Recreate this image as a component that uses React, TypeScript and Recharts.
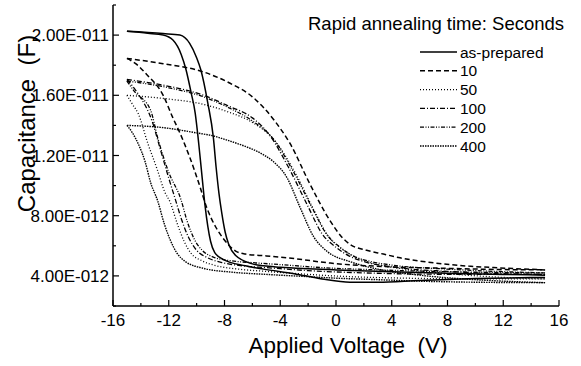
import { Label, Legend, Line, LineChart, XAxis, YAxis } from 'recharts'

// capacitance in pF, voltage in V; each loop is split into its two sweep branches
const asPreparedA: [number, number][] = [
  [-15, 20.25], [-13.5, 20.12], [-12.4, 20.0], [-11.7, 19.67], [-11.1, 18.7], [-10.76, 17.7], [-10.4, 16.2],
  [-10.1, 14.8], [-9.85, 12.8], [-9.6, 10.5], [-9.4, 8.7], [-9.2, 7.3], [-9.0, 6.3], [-8.7, 5.55], [-8.1, 5.1],
  [-6.5, 4.67], [-5.2, 4.45], [-3, 4.15], [-1, 3.8], [1, 3.58], [3, 3.58], [6, 3.7], [10, 3.82], [15, 3.9],
]
const asPreparedB: [number, number][] = [
  [-15, 20.25], [-12.4, 20.1], [-11.2, 20.0], [-10.5, 19.45], [-10.0, 18.5], [-9.7, 17.7], [-9.2, 15.5],
  [-8.8, 13.2], [-8.6, 11.2], [-8.4, 9.5], [-8.2, 8.2], [-7.95, 6.9], [-7.7, 6.1], [-7.2, 5.35], [-6.0, 4.8],
  [-5.2, 4.67], [-4, 4.58], [-2, 4.48], [0, 4.4], [4, 4.28], [8, 4.18], [12, 4.1], [15, 4.05],
]
const sec10Left: [number, number][] = [
  [-15, 18.45], [-14.3, 18.05], [-13.6, 17.4], [-12.4, 16.0], [-11.75, 14.6], [-11.2, 13.5], [-10.5, 11.9],
  [-9.75, 9.9], [-9.3, 8.6], [-8.6, 7.2], [-8.1, 6.5], [-7.2, 5.65], [-6.5, 5.45], [-5, 5.33], [-3, 5.15],
  [-0.4, 4.85], [4, 4.6], [8, 4.5], [12, 4.42], [15, 4.4],
]
const sec10Upper: [number, number][] = [
  [-15, 18.45], [-12.4, 18.1], [-9.5, 17.55], [-7.6, 16.8], [-6, 15.9], [-4.4, 14.3], [-3.3, 12.8],
  [-1.87, 10.1], [-0.43, 7.67], [0.5, 6.5], [1.0, 6.1], [2.2, 5.7], [3.4, 5.45], [4.6, 5.2], [7, 4.87],
  [9.5, 4.65], [11.8, 4.53], [15, 4.4],
]
const sec50Left: [number, number][] = [
  [-15, 16.0], [-14.6, 15.4], [-14.2, 14.8], [-13.5, 12.8], [-12.8, 11.0], [-12.3, 9.6], [-11.9, 8.9],
  [-11.4, 7.5], [-10.9, 6.3], [-10.4, 5.5], [-9.6, 5.0], [-8.7, 4.7], [-7, 4.45], [-5, 4.3], [-2, 4.1],
  [1, 3.95], [5, 3.85], [10, 3.8], [15, 3.8],
]
const sec50Upper: [number, number][] = [
  [-15, 16.0], [-12, 15.75], [-9.5, 15.4], [-7.75, 14.9], [-6, 14.2], [-4.4, 13.0], [-2.9, 10.8], [-1.6, 8.4],
  [-0.6, 6.7], [0.4, 5.8], [1.5, 5.2], [3, 4.75], [5, 4.45], [8, 4.15], [12, 3.9], [15, 3.8],
]
const sec100Left: [number, number][] = [
  [-15, 17.05], [-14.2, 16.1], [-13.2, 14.3], [-12.6, 12.4], [-12.0, 10.5], [-11.5, 9.0], [-11.1, 7.8],
  [-10.6, 6.6], [-10.0, 5.7], [-9.2, 5.2], [-8, 4.85], [-6.5, 4.65], [-5, 4.55], [-2, 4.35], [2, 4.2],
  [6, 4.12], [10, 4.1], [15, 4.1],
]
const sec100Upper: [number, number][] = [
  [-15, 17.05], [-12, 16.6], [-9.5, 16.0], [-7.75, 15.3], [-6, 14.5], [-4.8, 13.4], [-3.4, 11.2], [-2.0, 8.6],
  [-1.0, 6.8], [0, 5.9], [1, 5.3], [2, 4.95], [4, 4.6], [8, 4.3], [12, 4.15], [15, 4.1],
]
const sec200Left: [number, number][] = [
  [-15, 16.95], [-14.5, 16.3], [-13.3, 15.0], [-12.8, 13.2], [-12.05, 11.0], [-11.1, 9.0], [-10.7, 7.7],
  [-10.2, 6.5], [-9.6, 5.7], [-8.8, 5.25], [-7.5, 5.0], [-6, 4.88], [-4, 4.75], [-1, 4.55], [3, 4.4],
  [8, 4.28], [12, 4.22], [15, 4.2],
]
const sec200Upper: [number, number][] = [
  [-15, 16.95], [-12, 16.5], [-9.5, 15.9], [-7.75, 15.2], [-6, 14.3], [-4.5, 13.1], [-3.1, 11.0], [-1.7, 8.5],
  [-0.7, 6.8], [0.3, 5.9], [1.3, 5.3], [2.5, 4.95], [4, 4.72], [8, 4.45], [12, 4.28], [15, 4.2],
]
const sec400Left: [number, number][] = [
  [-15, 14.0], [-14.6, 13.5], [-14.2, 12.8], [-13.7, 11.6], [-13.3, 10.2], [-12.8, 9.0], [-12.3, 7.4],
  [-11.9, 6.4], [-11.4, 5.5], [-10.8, 4.95], [-9.5, 4.5], [-7.5, 4.25], [-5, 4.1], [-2, 3.95], [0, 3.85],
  [3, 3.75], [6, 3.65], [10, 3.58], [15, 3.55],
]
const sec400Upper: [number, number][] = [
  [-15, 14.0], [-12.4, 13.85], [-10, 13.5], [-8.8, 13.3], [-7.75, 13.0], [-6.5, 12.6], [-5.5, 12.2],
  [-4.5, 11.6], [-3.5, 10.5], [-2.6, 8.6], [-1.6, 6.6], [-0.6, 5.6], [1, 4.95], [3, 4.45], [6, 4.05],
  [10, 3.75], [15, 3.55],
]

const X_TICKS = [-16, -14, -12, -10, -8, -6, -4, -2, 0, 2, 4, 6, 8, 10, 12, 14, 16]
const Y_TICKS = [2, 4, 6, 8, 10, 12, 14, 16, 18, 20, 22]
const LEGEND_TITLE = 'Rapid annealing time: Seconds'

const SERIES = [
  { name: 'as-prepared', dash: undefined, width: 1.5, branches: [asPreparedA, asPreparedB] },
  { name: '10', dash: '5 3', width: 1.5, branches: [sec10Left, sec10Upper] },
  { name: '50', dash: '1 2', width: 1.3, branches: [sec50Left, sec50Upper] },
  { name: '100', dash: '5 2 1 2', width: 1.3, branches: [sec100Left, sec100Upper] },
  { name: '200', dash: '4 1.5 1 1.5 1 1.5', width: 1.3, branches: [sec200Left, sec200Upper] },
  { name: '400', dash: '1.5 1', width: 1.4, branches: [sec400Left, sec400Upper] },
]

const FONT = '"Liberation Sans", Arial, sans-serif'
const AXIS = { stroke: '#000', strokeWidth: 1.5 }

function sci(pf: number) {
  const v = pf * 1e-12
  const exp = Math.floor(Math.log10(v))
  const m = v / Math.pow(10, exp)
  return `${m.toFixed(2)}E-${String(-exp).padStart(3, '0')}`
}

const isMajorX = (v: number) => v % 4 === 0
const isMajorY = (v: number) => v % 4 === 0

function BottomTick({ x, y, payload }: any) {
  const v = payload.value
  const major = isMajorX(v)
  return (
    <g>
      <line x1={x} x2={x} y1={y} y2={y - (major ? 6 : 3)} stroke="#000" strokeWidth={1.2} />
      {major && (
        <text x={x} y={y + 20} textAnchor="middle" fontSize={17} fontFamily={FONT} fill="#000">
          {v}
        </text>
      )}
    </g>
  )
}

function TopTick({ x, y, payload }: any) {
  const len = isMajorX(payload.value) ? 6 : 3
  return <line x1={x} x2={x} y1={y} y2={y + len} stroke="#000" strokeWidth={1.2} />
}

function LeftTick({ x, y, payload }: any) {
  const v = payload.value
  const major = isMajorY(v)
  return (
    <g>
      <line x1={x} x2={x + (major ? 6 : 3)} y1={y} y2={y} stroke="#000" strokeWidth={1.2} />
      {major && (
        <text x={x - 4} y={y + 6} textAnchor="end" fontSize={17} fontFamily={FONT} fill="#000">
          {sci(v)}
        </text>
      )}
    </g>
  )
}

function RightTick({ x, y, payload }: any) {
  const len = isMajorY(payload.value) ? 6 : 3
  return <line x1={x} x2={x - len} y1={y} y2={y} stroke="#000" strokeWidth={1.2} />
}

function LegendBox() {
  return (
    <svg width={275} height={160} style={{ overflow: 'visible', display: 'block' }}>
      <text x={8} y={30} fontSize={18.5} fontFamily={FONT} fill="#000">
        {LEGEND_TITLE}
      </text>
      {SERIES.map((s, i) => {
        const cy = 52 + i * 18.8
        return (
          <g key={s.name}>
            <line x1={120} x2={157} y1={cy} y2={cy} stroke="#000" strokeWidth={s.width} strokeDasharray={s.dash} />
            <text x={160} y={cy + 5.5} fontSize={15.5} fontFamily={FONT} fill="#000">
              {s.name}
            </text>
          </g>
        )
      })}
    </svg>
  )
}

const rows = (pts: [number, number][]) => pts.map(([v, c]) => ({ v, c }))

export default function App() {
  return (
    <div style={{ position: 'absolute', left: 0, top: 0, width: 581, height: 366, background: '#fff' }}>
      <LineChart width={581} height={366} margin={{ top: 5, right: 22, bottom: 0, left: 0 }}>
        <XAxis
          xAxisId="b"
          type="number"
          dataKey="v"
          domain={[-16, 16]}
          ticks={X_TICKS}
          height={60}
          tickSize={0}
          tickMargin={0}
          tickLine={false}
          tick={BottomTick}
          axisLine={AXIS}
          interval={0}
          allowDataOverflow
        >
          <Label
            content={({ viewBox }: any) => (
              <text
                x={viewBox.x + viewBox.width / 2 + 12}
                y={viewBox.y + 47}
                textAnchor="middle"
                fontSize={22.5}
                fontFamily={FONT}
                fill="#000"
                style={{ whiteSpace: 'pre' }}
              >
                {'Applied Voltage  (V)'}
              </text>
            )}
          />
        </XAxis>
        <XAxis
          xAxisId="t"
          orientation="top"
          type="number"
          domain={[-16, 16]}
          ticks={X_TICKS}
          height={0}
          tickSize={0}
          tickMargin={0}
          tickLine={false}
          tick={TopTick}
          axisLine={AXIS}
          interval={0}
        />
        <YAxis
          yAxisId="l"
          type="number"
          domain={[2, 22]}
          ticks={Y_TICKS}
          width={113}
          tickSize={0}
          tickMargin={0}
          tickLine={false}
          tick={LeftTick}
          axisLine={AXIS}
          interval={0}
          allowDataOverflow
        >
          <Label
            content={({ viewBox }: any) => {
              const cy = viewBox.y + viewBox.height / 2 - 32
              return (
                <text
                  x={35}
                  y={cy}
                  transform={`rotate(-90, 35, ${cy})`}
                  textAnchor="middle"
                  fontSize={24}
                  fontFamily={FONT}
                  fill="#000"
                  style={{ whiteSpace: 'pre' }}
                >
                  {'Capacitance  (F)'}
                </text>
              )
            }}
          />
        </YAxis>
        <YAxis
          yAxisId="r"
          orientation="right"
          type="number"
          domain={[2, 22]}
          ticks={Y_TICKS}
          width={0}
          tickSize={0}
          tickMargin={0}
          tickLine={false}
          tick={RightTick}
          axisLine={AXIS}
          interval={0}
        />
        <Legend
          layout="vertical"
          align="center"
          verticalAlign="middle"
          wrapperStyle={{ left: 300, top: 0, width: 275, height: 160 }}
          content={() => <LegendBox />}
        />
        {SERIES.flatMap((s) =>
          s.branches.map((b, i) => (
            <Line
              key={`${s.name}-${i}`}
              xAxisId="b"
              yAxisId="l"
              data={rows(b)}
              dataKey="c"
              type="monotone"
              stroke="#000"
              strokeWidth={s.width}
              strokeDasharray={s.dash}
              dot={false}
              activeDot={false}
              legendType="none"
              isAnimationActive={false}
            />
          )),
        )}
      </LineChart>
    </div>
  )
}
